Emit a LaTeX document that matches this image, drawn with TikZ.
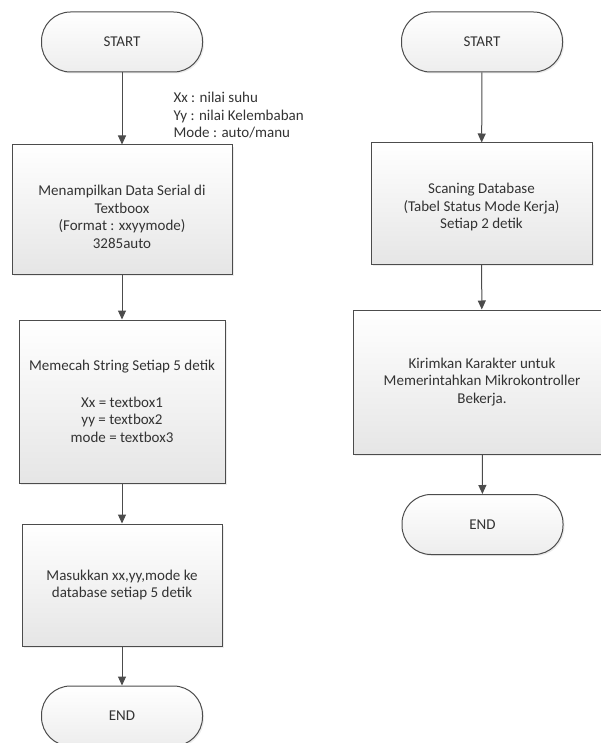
\documentclass[tikz,border=0pt]{standalone}
\usepackage{fontspec}
\setmainfont{Carlito}
\usetikzlibrary{arrows.meta, shadows}

\tikzset{
  terminal/.style={draw=black!70, line width=1pt, rounded corners=29pt,
    minimum width=161pt, minimum height=60pt, top color=white, bottom color=black!7,
    drop shadow={shadow xshift=1.5pt, shadow yshift=-1.5pt, fill=black!15}},
  proses/.style={draw=black!70, line width=1pt, align=center,
    top color=white, bottom color=black!10,
    drop shadow={shadow xshift=2pt, shadow yshift=-2pt, fill=black!15}},
  panah/.style={-{Triangle[length=9pt, width=8pt]}, line width=1pt, black!70},
}

\begin{document}
\begin{tikzpicture}[x=1pt, y=1pt, font=\fontsize{15}{17.5}\selectfont, text=black!80]
  \useasboundingbox (0,0) rectangle (601,-743);
  % Alur kiri
  \node[terminal] (mulaiA) at (122,-42) {START};
  \node[proses, minimum width=220pt, minimum height=129pt] (tampil) at (122,-209.5)
    {\mbox{}\\[8pt]Menampilkan Data Serial di\\Textboox\\(Format : xxyymode)\\3285auto};
  \node[proses, minimum width=206pt, minimum height=163pt] (pecah) at (122,-401.5)
    {Memecah String Setiap 5 detik\\[19pt]Xx = textbox1\\yy = textbox2\\mode = textbox3};
  \node[proses, minimum width=200pt, minimum height=122pt] (simpan) at (122,-585)
    {Masukkan xx,yy,mode ke\\database setiap 5 detik};
  \node[terminal] (selesaiA) at (122,-716) {END};
  % Keterangan data
  \node[anchor=north west, align=left] (ket) at (170,-89)
    {Xx : nilai suhu\\Yy : nilai Kelembaban\\Mode : auto/manu};
  % Alur kanan
  \node[terminal] (mulaiB) at (482,-42) {START};
  \node[proses, minimum width=221pt, minimum height=121pt] (scan) at (481.5,-203.5)
    {\mbox{}\\Scaning Database\\(Tabel Status Mode Kerja)\\Setiap 2 detik};
  \node[proses, minimum width=258pt, minimum height=144pt] (kirim) at (482,-382)
    {Kirimkan Karakter untuk\\Memerintahkan Mikrokontroller\\Bekerja.};
  \node[terminal] (selesaiB) at (482.5,-524.5) {END};
  % Panah
  \draw[panah] (mulaiA) -- (tampil);
  \draw[panah] (tampil) -- (pecah);
  \draw[panah] (pecah) -- (simpan);
  \draw[panah] (simpan) -- (selesaiA);
  \draw[panah] (mulaiB) -- (scan);
  \draw[panah] (scan) -- (kirim);
  \draw[panah] (kirim) -- (selesaiB);
\end{tikzpicture}
\end{document}
